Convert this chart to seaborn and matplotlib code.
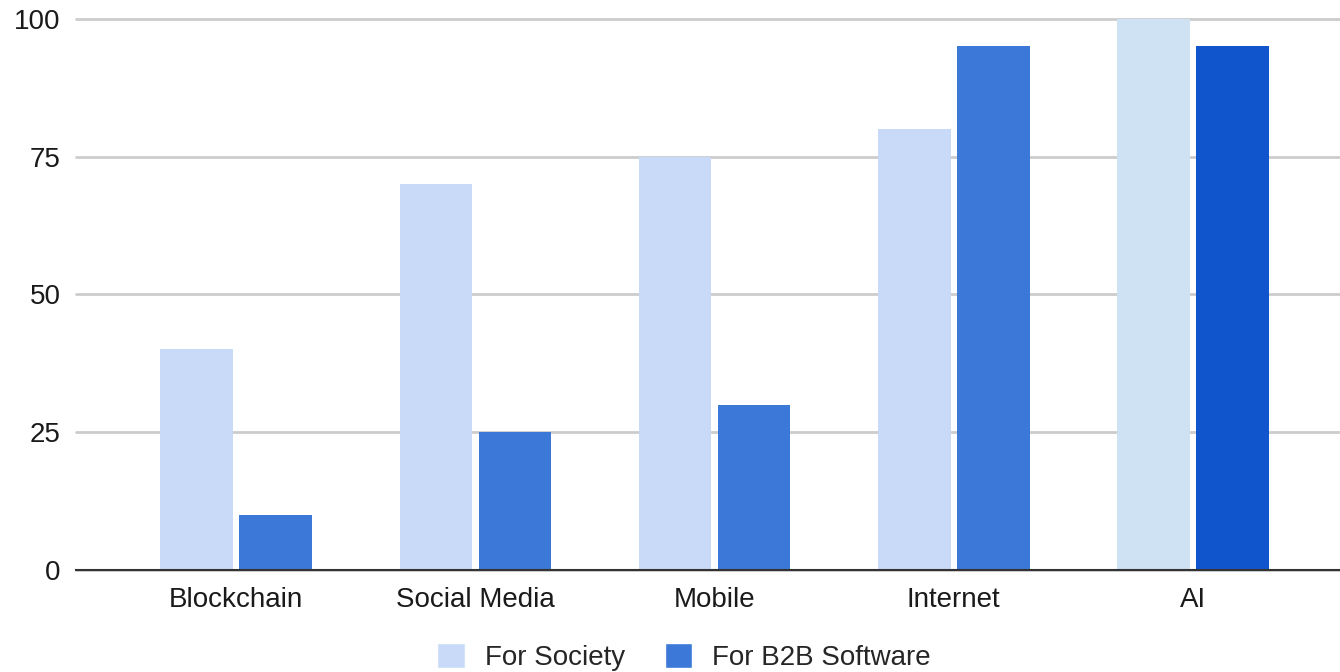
import matplotlib
matplotlib.use("Agg")
import matplotlib.pyplot as plt
import seaborn as sns
import pandas as pd

# Chart data
categories = ["Blockchain", "Social Media", "Mobile", "Internet", "AI"]
society = [40, 70, 75, 80, 100]
b2b = [10, 25, 30, 95, 95]
series_names = ["For Society", "For B2B Software"]

LIGHT = "#c9daf8"
DARK = "#3c78d8"
AI_LIGHT = "#cfe2f3"
AI_DARK = "#1155cc"

df = pd.DataFrame({
    "category": categories * 2,
    "value": society + b2b,
    "series": [series_names[0]] * len(categories) + [series_names[1]] * len(categories),
})

sns.set_style("white")
plt.rcParams["font.family"] = ["Liberation Sans", "DejaVu Sans"]

fig = plt.figure(figsize=(13.4, 6.72), dpi=100)
ax = fig.add_axes([0.0567, 0.152, 0.9433, 0.82])

sns.barplot(
    data=df, x="category", y="value", hue="series",
    order=categories, hue_order=series_names,
    palette=[LIGHT, DARK], width=0.66, gap=0.08,
    saturation=1, ax=ax, legend=True,
)

# AI bars use their own custom colours
n = len(categories)
bars = ax.patches[: 2 * n]
bars[n - 1].set_facecolor(AI_LIGHT)
bars[2 * n - 1].set_facecolor(AI_DARK)
for b in bars:
    b.set_edgecolor("none")

ax.set_xlim(-0.67, 4.615)
ax.set_ylim(0, 100)
ax.set_yticks([0, 25, 50, 75, 100])
ax.yaxis.grid(True, color="#cccccc", linewidth=2)
ax.set_axisbelow(True)
for g in ax.get_ygridlines():
    g.set_clip_on(False)
ax.set_xlabel("")
ax.set_ylabel("")
for s in ["left", "right", "top"]:
    ax.spines[s].set_visible(False)
ax.spines["bottom"].set_color("#333333")
ax.spines["bottom"].set_linewidth(1.5)
ax.tick_params(axis="both", length=0, labelsize=20, colors="#1a1a1a")
ax.tick_params(axis="x", pad=12)
ax.tick_params(axis="y", pad=11)

handles, labels = ax.get_legend_handles_labels()
ax.get_legend().remove()
fig.legend(
    handles, labels, loc="center", bbox_to_anchor=(0.5104, 0.022),
    ncol=2, frameon=False, fontsize=20, handlelength=1.0, handleheight=1.0,
    columnspacing=1.44, handletextpad=0.72,
)

fig.savefig("out.png", dpi=100)
